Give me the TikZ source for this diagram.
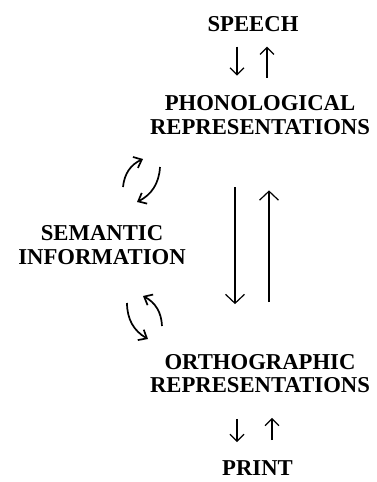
\documentclass[tikz,border=0pt]{standalone}
\usepackage{fontspec}
\newfontfamily\labelfont{Liberation Serif}
\usetikzlibrary{arrows.meta}

\begin{document}
\begin{tikzpicture}[x=1pt, y=-1pt,
    every node/.style={font=\labelfont\bfseries\fontsize{22.7}{23.5}\selectfont, align=center, inner sep=0pt, outer sep=0pt},
    longlink/.style={line width=1.2pt, -{Straight Barb[length=9pt, width=19pt]}},
    shortlink/.style={line width=1.2pt, -{Straight Barb[length=7pt, width=14pt]}},
    looplink/.style={line width=1.7pt, -{Straight Barb[length=7pt, width=12pt]}}]
    \useasboundingbox (0,0) rectangle (377,482);

    % Levels
    \node (speech) at (253,24) {SPEECH};
    \node (phono) at (260,115) {PHONOLOGICAL\\REPRESENTATIONS};
    \node (semantic) at (102,245) {SEMANTIC\\INFORMATION};
    \node (ortho) at (260,373.5) {ORTHOGRAPHIC\\REPRESENTATIONS};
    \node (print) at (257.5,468.5) {PRINT};

    % Speech <-> phonology
    \draw[shortlink, shorten <=15pt, shorten >=20pt] (speech.south -| 237,0) -- (phono.north -| 237,0);
    \draw[shortlink, shorten <=18pt, shorten >=15pt] (phono.north -| 267,0) -- (speech.south -| 267,0);

    % Phonology <-> orthography
    \draw[longlink, shorten <=53pt, shorten >=50pt] (phono.south -| 235,0) -- (ortho.north -| 235,0);
    \draw[longlink, shorten <=52pt, shorten >=56pt] (ortho.north -| 269,0) -- (phono.south -| 269,0);

    % Orthography <-> print
    \draw[shortlink, shorten <=26pt, shorten >=19pt] (ortho.south -| 237,0) -- (print.north -| 237,0);
    \draw[shortlink, shorten <=21pt, shorten >=25pt] (print.north -| 272,0) -- (ortho.south -| 272,0);

    % Semantic loops
    \coordinate (upA) at (123,187);
    \coordinate (upB) at (143,159);
    \coordinate (upC) at (160,167);
    \coordinate (upD) at (137,202);
    \draw[looplink] (upA) to[bend left=30] (upB);
    \draw[looplink] (upC) to[bend left=30] (upD);

    \coordinate (lowA) at (127,303);
    \coordinate (lowB) at (148,339);
    \coordinate (lowC) at (162,326);
    \coordinate (lowD) at (143,296);
    \draw[looplink] (lowA) to[bend right=30] (lowB);
    \draw[looplink] (lowC) to[bend right=30] (lowD);

\end{tikzpicture}
\end{document}
